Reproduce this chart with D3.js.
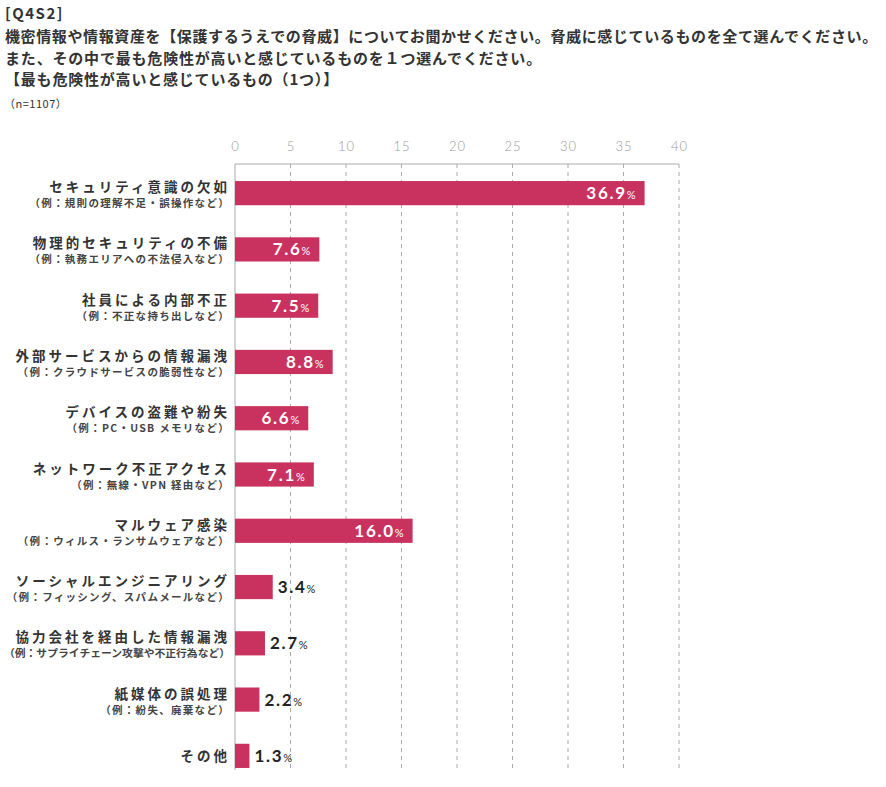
<!DOCTYPE html>
<html><head><meta charset="utf-8">
<script src="https://cdn.jsdelivr.net/npm/d3@7"></script>
<style>body{margin:0;background:#fff}svg{display:block}</style>
</head><body>
<svg id="c" width="886" height="787"></svg>
<script>
const titleLines = ["[Q4S2]",
 "機密情報や情報資産を【保護するうえでの脅威】についてお聞かせください。脅威に感じているものを全て選んでください。",
 "また、その中で最も危険性が高いと感じているものを１つ選んでください。",
 "【最も危険性が高いと感じているもの（1つ）】"];
const sampleNote = "（n=1107）";
const categories = ["セキュリティ意識の欠如","物理的セキュリティの不備","社員による内部不正","外部サービスからの情報漏洩","デバイスの盗難や紛失","ネットワーク不正アクセス","マルウェア感染","ソーシャルエンジニアリング","協力会社を経由した情報漏洩","紙媒体の誤処理","その他"];
const subLabels = ["（例：規則の理解不足・誤操作など）","（例：執務エリアへの不法侵入など）","（例：不正な持ち出しなど）","（例：クラウドサービスの脆弱性など）","（例：PC・USB メモリなど）","（例：無線・VPN 経由など）","（例：ウィルス・ランサムウェアなど）","（例：フィッシング、スパムメールなど）","（例：サプライチェーン攻撃や不正行為など）","（例：紛失、廃棄など）",""];
const values = [36.9,7.6,7.5,8.8,6.6,7.1,16.0,3.4,2.7,2.2,1.3];
const tickValues = [0,5,10,15,20,25,30,35,40];

const svg = d3.select("#c");
const jp = "'Noto Sans CJK JP','Noto Sans',sans-serif";
const lineY = [19,42,64,85];
const lineLen = [null, 873, 537, null];
titleLines.forEach((t,i)=>{
  const tx = svg.append("text").attr("x",5).attr("y",lineY[i]).attr("font-family",jp)
   .attr("font-size",15).attr("font-weight",700).attr("fill","#333").attr("letter-spacing",i==0?1.5:0.8).text(t);
  if (lineLen[i]) tx.attr("textLength",lineLen[i]).attr("lengthAdjust","spacing");
});
svg.append("text").attr("x",4).attr("y",108).attr("font-family",jp).attr("font-size",11)
  .attr("fill","#333").attr("letter-spacing",0.5).text(sampleNote);

const x = d3.scaleLinear().domain([0,40]).range([235,679]);
const y = d3.scaleBand().domain(categories).range([165,784]).paddingInner(0.57).paddingOuter(0.285);
const plotTop = 164, plotBottom = 770;

// gridlines
svg.append("g").selectAll("line").data(tickValues.slice(1)).join("line")
  .attr("x1",d=>x(d)).attr("x2",d=>x(d)).attr("y1",plotTop).attr("y2",plotBottom)
  .attr("stroke","#aaa").attr("stroke-dasharray","4,4").attr("stroke-width",1);
svg.append("line").attr("x1",x(0)).attr("x2",x(40)).attr("y1",plotTop).attr("y2",plotTop).attr("stroke","#aaa");
svg.append("line").attr("x1",x(0)).attr("x2",x(0)).attr("y1",plotTop).attr("y2",plotBottom).attr("stroke","#aaa");

// axis
const ax = svg.append("g").attr("transform",`translate(0,${plotTop})`)
  .call(d3.axisTop(x).tickValues(tickValues).tickSize(0).tickPadding(13).tickFormat(d3.format("d")));
ax.select(".domain").remove();
ax.selectAll("text").attr("font-family","Lato,'Noto Sans',sans-serif").attr("font-size",13)
  .attr("fill","#999").attr("font-weight",300).attr("letter-spacing",1);

// bars
svg.append("g").selectAll("rect").data(values).join("rect")
  .attr("x",x(0)).attr("y",(d,i)=>y(categories[i])).attr("width",d=>x(d)-x(0))
  .attr("height",y.bandwidth()).attr("fill","#C9325F");

// value labels
const vg = svg.append("g");
values.forEach((v,i)=>{
  const inside = v >= 5;
  const cy = y(categories[i]) + y.bandwidth()/2;
  const t = vg.append("text").attr("y",cy+6)
    .attr("font-family","Lato,'Noto Sans',sans-serif").attr("font-weight",700)
    .attr("fill",inside?"#fff":"#222").attr("letter-spacing",1.7)
    .attr("x",inside? x(v)-9 : x(v)+5).attr("text-anchor",inside?"end":"start");
  t.append("tspan").attr("font-size",17).text(v.toFixed(1));
  t.append("tspan").attr("font-size",11).attr("font-weight",400).attr("letter-spacing",0).text("%");
});

// category labels
const lg = svg.append("g");
const maxW = 228;
function fit(sel){
  const w = sel.node().getComputedTextLength();
  if (w > maxW) sel.attr("letter-spacing",0).attr("textLength",maxW - 2).attr("lengthAdjust","spacingAndGlyphs");
}
categories.forEach((c,i)=>{
  const cy = y(c) + y.bandwidth()/2;
  const hasSub = subLabels[i] !== "";
  const m = lg.append("text").attr("x",230).attr("y",hasSub?cy-1:cy+5).attr("text-anchor","end")
    .attr("font-family",jp).attr("font-size",13.5).attr("font-weight",700).attr("fill","#333")
    .attr("letter-spacing",3.0).text(c);
  fit(m);
  if(hasSub) {
    const s = lg.append("text").attr("x",230).attr("y",cy+14).attr("text-anchor","end")
      .attr("font-family",jp).attr("font-size",10.5).attr("font-weight",700).attr("fill","#444")
      .attr("letter-spacing",1.3).text(subLabels[i]);
    fit(s);
  }
});
</script>
</body></html>
